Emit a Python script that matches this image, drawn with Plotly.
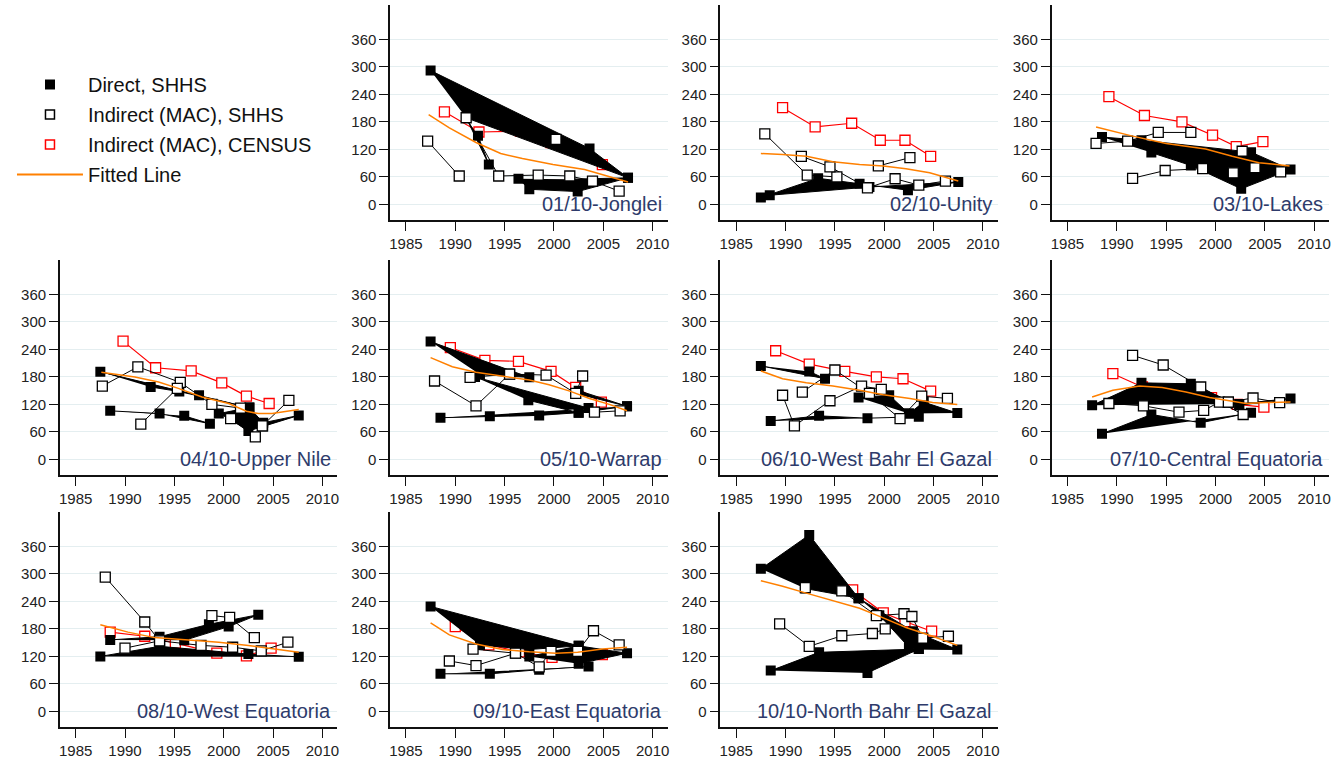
import plotly.graph_objects as go

# ---------------------------------------------------------------
# Axis ticks
# ---------------------------------------------------------------
YEAR_TICKS = [1985, 1990, 1995, 2000, 2005, 2010]
RATE_TICKS = [0, 60, 120, 180, 240, 300, 360]

REGIONS = [
    "01/10-Jonglei", "02/10-Unity", "03/10-Lakes", "04/10-Upper Nile",
    "05/10-Warrap", "06/10-West Bahr El Gazal", "07/10-Central Equatoria",
    "08/10-West Equatoria", "09/10-East Equatoria", "10/10-North Bahr El Gazal",
]

# ---------------------------------------------------------------
# Estimates per state: (year, rate) pairs
#   *_DIRECT   : direct SHHS estimates (drawn as filled areas)
#   *_INDIRECT : indirect (MAC) SHHS series
#   *_CENSUS   : indirect (MAC) census series
#   *_FIT      : fitted line
# ---------------------------------------------------------------
JONGLEI_DIRECT = [
    [(1987.5, 292), (2003.6, 122), (2007.5, 58), (1991.1, 189)],
    [(1991.1, 189), (1993.4, 87), (1992.3, 150)],
    [(1996.4, 56), (1997.5, 33), (2002.4, 28), (2007.5, 58), (2001.6, 55)],
]
JONGLEI_INDIRECT = [
    [(1987.2, 138), (1990.4, 62)],
    [(1991.1, 189), (1994.4, 62), (1998.4, 64), (2001.6, 62), (2003.9, 51), (2006.6, 29)],
    [(2000.2, 142)],
]
JONGLEI_CENSUS = [(1988.9, 202), (1992.4, 158), (1996.6, 160), (1999.7, 135), (2002.1, 118), (2004.9, 87)]
JONGLEI_FIT = [(1987.3, 196), (1989.4, 167), (1992.1, 135), (1994.6, 111), (1996.8, 100),
               (1999.9, 87), (2003.1, 76), (2007.5, 49)]

UNITY_DIRECT = [
    [(1987.5, 15), (1993.3, 57), (1997.5, 45), (2002.4, 31), (2007.5, 49), (1998.5, 38), (1988.4, 20)],
]
UNITY_INDIRECT = [
    [(1987.9, 154), (1992.2, 64), (1995.2, 60)],
    [(1991.6, 105), (1994.5, 82), (1998.3, 36), (2001.1, 56), (2003.5, 42), (2006.2, 51)],
    [(1999.4, 84), (2002.6, 102)],
]
UNITY_CENSUS = [(1989.7, 211), (1993.0, 169), (1996.7, 177), (1999.6, 140), (2002.1, 140), (2004.7, 105)]
UNITY_FIT = [(1987.5, 111), (1989.7, 109), (1992.1, 105), (1994.8, 93), (1997.5, 87),
             (1999.9, 84), (2002.2, 78), (2004.6, 69), (2007.5, 51)]

LAKES_DIRECT = [
    [(1988.5, 147), (1992.5, 140), (2003.6, 114), (2007.6, 76), (2002.6, 34), (1997.5, 85), (1993.5, 113)],
]
LAKES_INDIRECT = [
    [(1987.9, 133), (1991.1, 138), (1994.2, 157), (1997.5, 157)],
    [(1991.6, 57), (1994.9, 74), (1998.7, 78), (2001.8, 69), (2004.0, 80), (2006.6, 71)],
    [(2002.7, 116)],
]
LAKES_CENSUS = [(1989.2, 235), (1992.8, 194), (1996.6, 180), (1999.7, 151), (2002.1, 126), (2004.8, 137)]
LAKES_FIT = [(1987.9, 169), (1991.6, 149), (1995.0, 133), (1999.0, 121), (2001.7, 105),
             (2004.4, 91), (2007.5, 84)]

UPPER_NILE_DIRECT = [
    [(1987.5, 191), (1997.5, 140), (2002.6, 113), (1995.5, 148), (1992.6, 158)],
    [(1988.5, 106), (1993.5, 100), (1998.6, 78), (1996.0, 95)],
    [(1999.5, 100), (2002.6, 113), (2004.0, 80), (2007.6, 96), (2004.0, 72), (2002.5, 62)],
]
UPPER_NILE_INDIRECT = [
    [(1987.7, 160), (1991.3, 202), (1995.6, 168), (1998.8, 120), (2001.7, 112)],
    [(1991.6, 77), (1995.3, 155)],
    [(2000.7, 89), (2003.2, 49), (2003.9, 73), (2006.6, 129)],
]
UPPER_NILE_CENSUS = [(1989.8, 258), (1993.1, 200), (1996.7, 193), (1999.8, 167), (2002.3, 138), (2004.6, 122)]
UPPER_NILE_FIT = [(1987.6, 190), (1991.0, 180), (1993.4, 169), (1995.4, 155), (1997.8, 136),
                  (2000.5, 122), (2002.3, 105), (2003.5, 100), (2004.9, 100), (2006.2, 105), (2007.6, 109)]

WARRAP_DIRECT = [
    [(1987.5, 257), (1997.5, 179), (1992.5, 185)],
    [(1992.0, 180), (2003.5, 112), (2002.5, 102), (1997.4, 129)],
    [(2002.2, 144), (2007.4, 116), (2002.5, 150)],
    [(1988.5, 91), (1993.5, 94), (1998.5, 96), (2002.5, 102), (2007.4, 116)],
]
WARRAP_INDIRECT = [
    [(1987.9, 171), (1992.1, 117), (1995.5, 186)],
    [(1991.5, 179), (1995.5, 186), (1999.2, 184), (2002.2, 144), (2002.9, 182)],
    [(2004.1, 103), (2006.7, 106)],
]
WARRAP_CENSUS = [(1989.5, 244), (1993.0, 216), (1996.4, 214), (1999.7, 192), (2002.2, 157), (2004.8, 125)]
WARRAP_FIT = [(1987.5, 222), (1989.7, 202), (1992.1, 190), (1994.8, 182), (1997.5, 173),
              (1999.5, 163), (2001.6, 149), (2003.6, 133), (2005.6, 120), (2007.4, 106)]

WBEG_DIRECT = [
    [(1987.5, 204), (1994.0, 176), (1992.4, 192)],
    [(1997.4, 135), (2000.5, 140), (2002.5, 100)],
    [(2002.5, 100), (2004.0, 125), (2007.4, 101)],
    [(1988.5, 84), (1993.4, 95), (1998.3, 90), (2003.5, 93)],
]
WBEG_INDIRECT = [
    [(1989.7, 140), (1990.9, 73), (1994.5, 128), (1997.7, 160), (1999.7, 153)],
    [(1991.7, 147), (1995.0, 195), (1998.5, 144), (2001.6, 89), (2003.8, 138), (2006.4, 133)],
]
WBEG_CENSUS = [(1989.0, 237), (1992.4, 208), (1996.0, 192), (1999.2, 180), (2001.9, 176), (2004.7, 149)]
WBEG_FIT = [(1987.5, 193), (1989.7, 176), (1992.1, 167), (1994.8, 160), (1997.5, 151),
            (1999.9, 141), (2002.6, 133), (2004.9, 124), (2007.4, 120)]

CEQ_DIRECT = [
    [(1987.5, 118), (1992.5, 167), (1997.5, 165), (2002.4, 118), (2007.6, 133), (2002.4, 121)],
    [(1988.5, 56), (1993.5, 98), (1998.5, 80), (2003.6, 102)],
]
CEQ_INDIRECT = [
    [(1991.6, 227), (1994.7, 206), (1998.5, 158), (2001.3, 125)],
    [(1989.2, 122), (1992.7, 117), (1996.3, 103), (1998.8, 107), (2000.4, 125), (2002.8, 98)],
    [(2001.3, 125), (2003.8, 134), (2006.5, 124)],
]
CEQ_CENSUS = [(1989.6, 187), (1992.6, 158), (1996.3, 150), (1999.6, 135), (2002.2, 120), (2004.9, 114)]
CEQ_FIT = [(1987.5, 136), (1989.6, 151), (1992.3, 160), (1994.6, 157), (1997.0, 147),
           (1999.4, 135), (2001.7, 127), (2003.1, 122), (2005.1, 124), (2007.6, 125)]

WEQ_DIRECT = [
    [(1987.5, 120), (1993.5, 142), (2002.5, 125), (2007.6, 119)],
    [(1988.5, 156), (1993.5, 163), (1998.5, 190), (2003.5, 211), (2000.5, 185), (1996.0, 155)],
]
WEQ_INDIRECT = [
    [(1988.0, 293), (1992.0, 195), (1993.5, 154)],
    [(1990.0, 138), (1993.5, 154), (1997.7, 144), (2000.9, 140), (2003.8, 132), (2006.5, 151)],
    [(1998.8, 209), (2000.6, 205), (2003.1, 161)],
]
WEQ_CENSUS = [(1988.5, 173), (1992.0, 164), (1995.1, 149), (1999.3, 127), (2002.3, 121), (2004.8, 138)]
WEQ_FIT = [(1987.5, 189), (1990.3, 173), (1993.0, 161), (1996.4, 156), (1999.5, 151),
           (2002.5, 144), (2004.9, 137), (2007.6, 129)]

EEQ_DIRECT = [
    [(1987.5, 229), (2002.5, 143), (1997.5, 135), (1992.5, 145)],
    [(1997.5, 120), (2002.5, 143), (2007.4, 127), (2002.5, 104)],
    [(1988.5, 82), (1993.5, 82), (1998.5, 91), (2003.5, 98)],
]
EEQ_INDIRECT = [
    [(1989.4, 110), (1992.1, 100), (1996.1, 127)],
    [(1991.8, 136), (1996.1, 127), (1998.5, 97), (1999.7, 131), (2002.4, 131), (2004.0, 176), (2006.6, 145)],
]
EEQ_CENSUS = [(1990.0, 185), (1993.4, 145), (1996.5, 130), (1999.8, 118), (2002.3, 125), (2004.9, 124)]
EEQ_FIT = [(1987.5, 193), (1989.4, 167), (1992.1, 147), (1994.8, 135), (1997.5, 130),
           (2000.2, 127), (2002.4, 129), (2004.9, 136), (2007.4, 140)]

NBEG_DIRECT = [
    [(1987.5, 311), (1992.4, 385), (1997.4, 247), (1992.0, 268)],
    [(1997.4, 247), (2002.9, 175), (2007.4, 135), (2003.5, 136), (2002.5, 140), (1999.5, 210)],
    [(1988.5, 89), (1993.4, 129), (2003.5, 136), (1998.3, 84)],
]
NBEG_INDIRECT = [
    [(1992.0, 270), (1995.7, 263), (1999.2, 209), (2002.0, 213), (2002.8, 207), (2003.9, 160), (2006.5, 164)],
    [(1989.4, 191), (1992.4, 142), (1995.7, 165), (1998.8, 170), (2000.1, 180)],
]
NBEG_CENSUS = [(1989.5, 320), (1993.0, 290), (1996.8, 265), (1999.9, 215), (2002.1, 196), (2004.8, 175)]
NBEG_FIT = [(1987.5, 285), (1989.7, 273), (1992.1, 258), (1994.8, 241), (1997.5, 225),
            (1999.9, 204), (2002.2, 183), (2004.9, 164), (2007.4, 144)]

PANELS = [
    (JONGLEI_DIRECT, JONGLEI_INDIRECT, JONGLEI_CENSUS, JONGLEI_FIT),
    (UNITY_DIRECT, UNITY_INDIRECT, UNITY_CENSUS, UNITY_FIT),
    (LAKES_DIRECT, LAKES_INDIRECT, LAKES_CENSUS, LAKES_FIT),
    (UPPER_NILE_DIRECT, UPPER_NILE_INDIRECT, UPPER_NILE_CENSUS, UPPER_NILE_FIT),
    (WARRAP_DIRECT, WARRAP_INDIRECT, WARRAP_CENSUS, WARRAP_FIT),
    (WBEG_DIRECT, WBEG_INDIRECT, WBEG_CENSUS, WBEG_FIT),
    (CEQ_DIRECT, CEQ_INDIRECT, CEQ_CENSUS, CEQ_FIT),
    (WEQ_DIRECT, WEQ_INDIRECT, WEQ_CENSUS, WEQ_FIT),
    (EEQ_DIRECT, EEQ_INDIRECT, EEQ_CENSUS, EEQ_FIT),
    (NBEG_DIRECT, NBEG_INDIRECT, NBEG_CENSUS, NBEG_FIT),
]

# ---------------------------------------------------------------
# Styling / layout
# ---------------------------------------------------------------
W, H = 1344, 759
FONT = "Liberation Sans, Arial, sans-serif"
TITLE_COLOR = "#2E3B6B"
ORANGE = "#FF8000"
GRID = "#E4EEF0"

COL_LEFT = [59, 390, 721, 1053]      # px, left edge of each plot column
ROW_TOP = [5, 260, 512]              # px, top edge of each plot row
PLOT_W, PLOT_H = 278, 215
X_RANGE = [1983.4, 2011.5]
Y_RANGE = [-34, 435]
TICK_FONT = dict(size=15, color="#222", family=FONT)


def flatten(groups):
    xs, ys = [], []
    for g in groups:
        for x, y in g:
            xs.append(x)
            ys.append(y)
        xs.append(None)
        ys.append(None)
    return xs, ys


fig = go.Figure()
layout = {}
annotations = []

for i, (direct, indirect, census, fit) in enumerate(PANELS):
    n = i + 1
    cell = i + 1                     # cell 0 holds the legend
    row, col = divmod(cell, 4)
    xa = "x" if n == 1 else f"x{n}"
    ya = "y" if n == 1 else f"y{n}"

    x0 = COL_LEFT[col] / W
    x1 = (COL_LEFT[col] + PLOT_W) / W
    y1 = 1 - ROW_TOP[row] / H
    y0 = 1 - (ROW_TOP[row] + PLOT_H) / H

    layout["xaxis" if n == 1 else f"xaxis{n}"] = dict(
        domain=[x0, x1], anchor=ya, range=X_RANGE, tickvals=YEAR_TICKS,
        showgrid=False, zeroline=False, showline=True, linecolor="#111",
        linewidth=1.5, ticks="outside", ticklen=9, tickwidth=1.3, tickcolor="#111",
        tickfont=TICK_FONT,
    )
    layout["yaxis" if n == 1 else f"yaxis{n}"] = dict(
        domain=[y0, y1], anchor=xa, range=Y_RANGE, tickvals=RATE_TICKS,
        showgrid=True, gridcolor=GRID, gridwidth=1.3, zeroline=False,
        showline=True, linecolor="#111", linewidth=1.5, ticks="outside",
        ticklen=9, tickwidth=1.3, tickcolor="#111",
        tickfont=TICK_FONT,
    )

    # census (drawn underneath)
    cx, cy = flatten([census])
    fig.add_trace(go.Scatter(
        x=cx, y=cy, xaxis=xa, yaxis=ya, mode="lines+markers",
        line=dict(color="red", width=1.2),
        marker=dict(symbol="square", size=10, color="white",
                    line=dict(color="red", width=1.3)),
        showlegend=False, hoverinfo="skip"))

    # direct estimates as filled shapes
    dx, dy = flatten(direct)
    fig.add_trace(go.Scatter(
        x=dx, y=dy, xaxis=xa, yaxis=ya, mode="lines+markers",
        fill="toself", fillcolor="black", line=dict(color="black", width=1),
        marker=dict(symbol="square", size=10, color="black"),
        showlegend=False, hoverinfo="skip"))

    # indirect SHHS series
    ix, iy = flatten(indirect)
    fig.add_trace(go.Scatter(
        x=ix, y=iy, xaxis=xa, yaxis=ya, mode="lines+markers",
        line=dict(color="black", width=1),
        marker=dict(symbol="square", size=10, color="white",
                    line=dict(color="black", width=1.3)),
        showlegend=False, hoverinfo="skip"))

    # fitted line
    fx, fy = flatten([fit])
    fig.add_trace(go.Scatter(
        x=fx, y=fy, xaxis=xa, yaxis=ya, mode="lines",
        line=dict(color=ORANGE, width=1.5),
        showlegend=False, hoverinfo="skip"))

    annotations.append(dict(
        text=REGIONS[i], xref=f"{xa} domain", yref=ya, x=1, y=0,
        xanchor="right", yanchor="middle", xshift=-4, showarrow=False,
        font=dict(size=20, color=TITLE_COLOR, family=FONT)))

# legend entries
legend_items = [
    ("Direct, SHHS", dict(mode="markers", marker=dict(symbol="square", size=10, color="black"))),
    ("Indirect (MAC), SHHS", dict(mode="markers", marker=dict(symbol="square", size=9, color="white",
                                                               line=dict(color="black", width=1.5)))),
    ("Indirect (MAC), CENSUS", dict(mode="markers", marker=dict(symbol="square", size=9, color="white",
                                                                 line=dict(color="red", width=1.5)))),
    ("Fitted Line", dict(mode="lines", line=dict(color=ORANGE, width=2))),
]
for k, (name, style) in enumerate(legend_items):
    fig.add_trace(go.Scatter(x=[None], y=[None], name=name, legendgroup=f"g{k}",
                             showlegend=True, hoverinfo="skip", **style))

fig.update_layout(
    **layout,
    width=W, height=H, autosize=False,
    margin=dict(l=0, r=0, t=0, b=0),
    paper_bgcolor="white", plot_bgcolor="white",
    font=dict(family=FONT, color="black"),
    annotations=annotations,
    showlegend=True,
    legend=dict(x=11 / W, y=1 - 65 / H, xanchor="left", yanchor="top",
                font=dict(size=20, color="#111", family=FONT),
                tracegroupgap=1, bgcolor="rgba(0,0,0,0)", itemwidth=66),
)

fig.write_html("out.html", config={"displayModeBar": False})
